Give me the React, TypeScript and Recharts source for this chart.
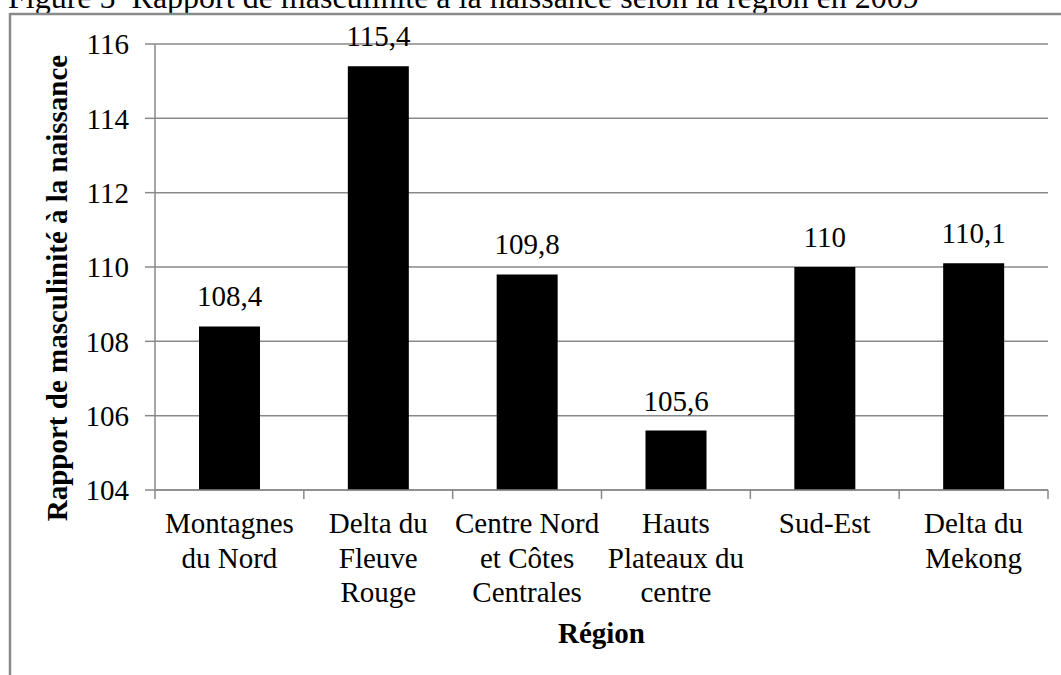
import React from 'react';
import { BarChart, Bar, XAxis, YAxis, CartesianGrid, LabelList } from 'recharts';

const regions = [
  'Montagnes\ndu Nord',
  'Delta du\nFleuve\nRouge',
  'Centre Nord\net Côtes\nCentrales',
  'Hauts\nPlateaux du\ncentre',
  'Sud-Est',
  'Delta du\nMekong',
];
const ratios = [108.4, 115.4, 109.8, 105.6, 110, 110.1];
const yTicks = [104, 106, 108, 110, 112, 114, 116];

const titleText = 'Figure 5  Rapport de masculinité à la naissance selon la région en 2009';
const yTitle = 'Rapport de masculinité à la naissance';
const xTitle = 'Région';

const data = regions.map((r, i) => ({ region: r, value: ratios[i] }));

const FONT = '"Liberation Serif", "Times New Roman", serif';
const GRID = '#898989';
const W = 1061;
const H = 675;
const TICK_SIZE = 9;
const TICK_MARGIN = 13;
const LINE_H = 34.7;

const CategoryTick = (props: any) => {
  const { x, y, payload, index, visibleTicksCount } = props;
  const lines = String(payload.value).split('\n');
  const half = payload.offset ?? 0;
  const axisY = y - TICK_SIZE - TICK_MARGIN;
  return (
    <g>
      <line x1={x - half} x2={x - half} y1={axisY} y2={axisY + TICK_SIZE} stroke={GRID} strokeWidth={1.5} />
      {index === visibleTicksCount - 1 && (
        <line x1={x + half} x2={x + half} y1={axisY} y2={axisY + TICK_SIZE} stroke={GRID} strokeWidth={1.5} />
      )}
      <text x={x} y={y} textAnchor="middle" fontFamily={FONT} fontSize={29} fill="#000">
        {lines.map((l, i) => (
          <tspan key={i} x={x} y={y + 21 + i * LINE_H}>
            {l}
          </tspan>
        ))}
      </text>
    </g>
  );
};

const YTitle = (props: any) => {
  const vb = props.viewBox || {};
  const cx = 67;
  const cy = (vb.y ?? 44) + (vb.height ?? 446) / 2 + 21;
  return (
    <text
      x={cx}
      y={cy}
      transform={`rotate(-90 ${cx} ${cy})`}
      textAnchor="middle"
      fontFamily={FONT}
      fontSize={29}
      fontWeight="bold"
      fill="#000"
    >
      {yTitle}
    </text>
  );
};

export default function App() {
  return (
    <div style={{ position: 'absolute', left: 0, top: 0, width: W, height: H, overflow: 'hidden', background: '#fff' }}>
      <svg width={W} height={H} style={{ position: 'absolute', left: 0, top: 0 }}>
        <text x={8} y={8} fontFamily={FONT} fontSize={32} fill="#000" xmlSpace="preserve" style={{ whiteSpace: 'pre' }}>
          {titleText}
        </text>
        <line x1={10} x2={W} y1={14} y2={14} stroke="#8a8a8a" strokeWidth={2.5} />
        <line x1={10} x2={10} y1={13} y2={H} stroke="#8a8a8a" strokeWidth={2.5} />
      </svg>
      <div style={{ position: 'absolute', left: 0, top: 0 }}>
        <BarChart
          width={W}
          height={H}
          data={data}
          margin={{ top: 44, right: 13, left: 0, bottom: 0 }}
          barSize={61}
        >
          <CartesianGrid vertical={false} stroke={GRID} strokeWidth={1.5} />
          <XAxis
            dataKey="region"
            height={185}
            interval={0}
            tickLine={false}
            tickSize={TICK_SIZE}
            tickMargin={TICK_MARGIN}
            axisLine={{ stroke: GRID, strokeWidth: 1.5 }}
            tick={<CategoryTick />}
            label={{
              value: xTitle,
              position: 'insideBottom',
              offset: 32,
              fontFamily: FONT,
              fontSize: 29,
              fontWeight: 'bold',
              fill: '#000',
            }}
          />
          <YAxis
            width={155}
            domain={[104, 116]}
            ticks={yTicks}
            interval={0}
            tickSize={10}
            tickMargin={16}
            axisLine={{ stroke: GRID, strokeWidth: 1.5 }}
            tickLine={{ stroke: GRID, strokeWidth: 1.5 }}
            tick={{ fontFamily: FONT, fontSize: 29, fill: '#000' }}
            label={<YTitle />}
          />
          <Bar dataKey="value" fill="#000" isAnimationActive={false}>
            <LabelList
              dataKey="value"
              position="top"
              offset={20}
              formatter={(v: any) => String(v).replace('.', ',')}
              style={{ fontFamily: FONT, fontSize: 29, fill: '#000' }}
            />
          </Bar>
        </BarChart>
      </div>
    </div>
  );
}
